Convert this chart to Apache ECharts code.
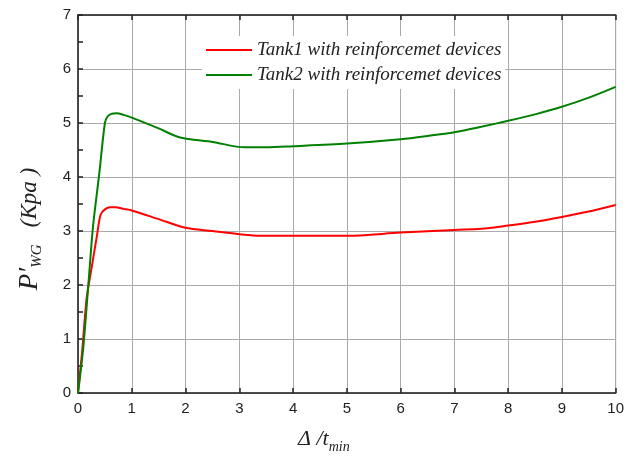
<!DOCTYPE html>
<html>
<head>
<meta charset="utf-8">
<script src="https://cdn.jsdelivr.net/npm/echarts@6/dist/echarts.min.js"></script>
<style>
    html, body { margin: 0; padding: 0; background: #fff; }
    #chart { width: 627px; height: 461px; }
</style>
</head>
<body>
<div id="chart"></div>
<script>
    // Tank1 (red) : [Δ/t_min, P'_WG]
    var tank1 = [
        [0, 0], [0.08, 0.8], [0.16, 1.75], [0.25, 2.3], [0.35, 2.9], [0.42, 3.3],
        [0.5, 3.4], [0.6, 3.44], [0.7, 3.44], [0.85, 3.41], [1.0, 3.38], [1.5, 3.22],
        [2.0, 3.06], [2.5, 3.0], [3.0, 2.94], [3.4, 2.91], [4, 2.91], [5, 2.91],
        [6, 2.97], [7, 3.02], [7.5, 3.04], [8, 3.1], [8.5, 3.17], [9, 3.26],
        [9.5, 3.36], [10, 3.48]
    ];
    // Tank2 (green)
    var tank2 = [
        [0, 0], [0.1, 0.86], [0.2, 2.1], [0.28, 3.09], [0.4, 4.1], [0.5, 5.0],
        [0.55, 5.12], [0.62, 5.17], [0.72, 5.18], [0.85, 5.15], [1.0, 5.1], [1.5, 4.9],
        [1.9, 4.73], [2.5, 4.65], [3.1, 4.55], [3.5, 4.55], [4, 4.57], [5, 4.62],
        [6, 4.7], [6.5, 4.76], [7, 4.83], [7.5, 4.93], [8, 5.04], [8.5, 5.16],
        [9, 5.3], [9.5, 5.47], [10, 5.67]
    ];
    var seriesNames = ['Tank1 with reinforcemet devices', 'Tank2 with reinforcemet devices'];

    var tickStyle = { color: '#222', width: 1.5 };

    var chart = echarts.init(document.getElementById('chart'));
    chart.setOption({
        animation: false,
        grid: {
            left: 78, right: 9, top: 15, bottom: 68,
            show: true, borderColor: '#999', borderWidth: 1
        },
        legend: {
            data: seriesNames,
            orient: 'vertical',
            left: 202, top: 36,
            icon: 'rect',
            itemWidth: 46, itemHeight: 2, itemGap: 3,
            backgroundColor: '#fff',
            padding: [3, 4],
            textStyle: {
                fontFamily: 'Liberation Serif', fontStyle: 'italic',
                fontSize: 19, color: '#222', lineHeight: 22
            }
        },
        xAxis: [
            {
                type: 'value', min: 0, max: 10, interval: 1,
                name: '{a|Δ /t}{s|min}',
                nameLocation: 'middle', nameGap: 31,
                nameTextStyle: {
                    padding: [0, 46, 0, 0],
                    rich: {
                        a: { fontFamily: 'Liberation Serif', fontStyle: 'italic', fontSize: 22, color: '#222' },
                        s: { fontFamily: 'Liberation Serif', fontStyle: 'italic', fontSize: 14, color: '#222', padding: [16, 0, 0, 0] }
                    }
                },
                axisLine: { lineStyle: tickStyle },
                axisTick: { inside: true, length: 5, lineStyle: tickStyle },
                axisLabel: { fontFamily: 'Liberation Sans', fontSize: 15, color: '#222', margin: 8 },
                splitLine: { lineStyle: { color: '#aaa', width: 1 } }
            },
            {
                // mirrored top frame with ticks
                type: 'value', position: 'top', min: 0, max: 10, interval: 1,
                axisLine: { show: true, onZero: false, lineStyle: tickStyle },
                axisTick: { show: true, inside: true, length: 5, lineStyle: tickStyle },
                axisLabel: { show: false },
                splitLine: { show: false }
            }
        ],
        yAxis: {
            type: 'value', min: 0, max: 7, interval: 1,
            name: '{p|P′}{s|WG}{k|   (Kpa )}',
            nameLocation: 'middle', nameGap: 33,
            nameTextStyle: {
                padding: [0, 50, 0, 0],
                rich: {
                    p: { fontFamily: 'Liberation Serif', fontStyle: 'italic', fontSize: 27, color: '#222' },
                    s: { fontFamily: 'Liberation Serif', fontStyle: 'italic', fontSize: 15, color: '#222', padding: [16, 0, 0, 0] },
                    k: { fontFamily: 'Liberation Serif', fontStyle: 'italic', fontSize: 23, color: '#222' }
                }
            },
            axisLine: { show: true, lineStyle: tickStyle },
            axisTick: { inside: true, length: 5, lineStyle: tickStyle },
            minorTick: { show: true, splitNumber: 2, length: 5, lineStyle: tickStyle },
            axisLabel: { fontFamily: 'Liberation Sans', fontSize: 15, color: '#222', margin: 7 },
            splitLine: { lineStyle: { color: '#aaa', width: 1 } }
        },
        series: [
            {
                name: seriesNames[0], type: 'line', data: tank1,
                symbol: 'none', smooth: 0.3,
                lineStyle: { color: '#ff0000', width: 2 },
                itemStyle: { color: '#ff0000' }
            },
            {
                name: seriesNames[1], type: 'line', data: tank2,
                symbol: 'none', smooth: 0.3,
                lineStyle: { color: '#008000', width: 2 },
                itemStyle: { color: '#008000' }
            }
        ]
    });
</script>
</body>
</html>
